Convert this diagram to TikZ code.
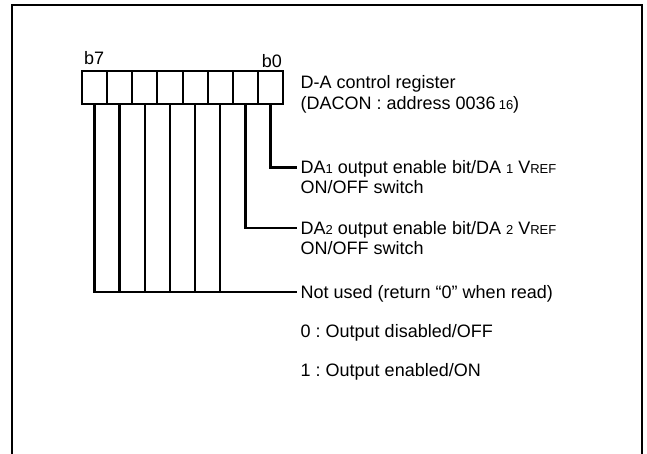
\documentclass[tikz,border=0pt]{standalone}
\usepackage{fontspec}
\setmainfont{Liberation Sans}
\newcommand{\sm}[1]{{\fontsize{13}{13}\selectfont #1}}
\begin{document}
\frenchspacing
\begin{tikzpicture}[x=1pt,y=-1pt,
  cell/.style={draw,line width=2pt,minimum width=25.125pt,minimum height=33pt,inner sep=0pt,anchor=west},
  lbl/.style={anchor=west,inner xsep=3.5pt,inner ysep=0pt,text height=13pt,text depth=0pt,font=\fontsize{18}{20}\selectfont},
  wire/.style={line width=2.6pt},
  frame/.style={line width=2.6pt}]
\useasboundingbox (0,0) rectangle (647,454);
\draw[frame] (12,460) -- (12,5) -- (642,5) -- (642,460);
% register cells
\foreach \i [evaluate=\i as \xx using 81+25.125*(7-\i)] in {7,...,0}
  \node[cell] (c\i) at (\xx,87.5) {};
\node[anchor=base west,inner sep=0pt,font=\fontsize{18}{20}\selectfont] (b7) at (84,65) {b7};
\node[anchor=base east,inner sep=0pt,font=\fontsize{18}{20}\selectfont] (b0) at (282,68) {b0};
% labels
\node[lbl] (reg1) at (297,82.5) {D-A control register};
\node[lbl] (reg2) at (297,103) {(DACON : address 0036\,\sm{16})};
\node[lbl] (da1) at (297,167.5) {DA\sm{1} output enable bit/DA \sm{1} V\sm{REF}};
\node[lbl] (da1b) at (297,187.5) {ON/OFF switch};
\node[lbl] (da2) at (297,228) {DA\sm{2} output enable bit/DA \sm{2} V\sm{REF}};
\node[lbl] (da2b) at (297,248) {ON/OFF switch};
\node[lbl] (nu) at (297,292) {Not used (return “0” when read)};
\node[lbl] (z) at (297,331) {0 : Output disabled/OFF};
\node[lbl] (o) at (297,369.5) {1 : Output enabled/ON};
% connectors
\draw[wire] (c0.south) |- (da1.west);
\draw[wire] (c1.south) |- (da2.west);
\draw[wire] (c7.south) |- (nu.west);
\foreach \i in {6,...,2}
  \draw[wire] (c\i.south) -- (c\i.south |- nu.west);
\end{tikzpicture}
\end{document}
